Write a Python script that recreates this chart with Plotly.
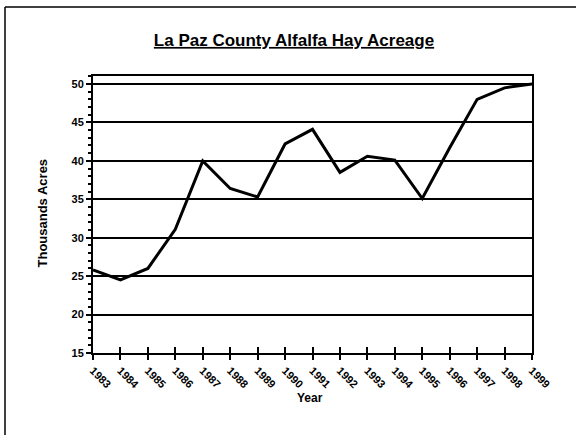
import plotly.graph_objects as go

years = list(range(1983, 2000))
acres = [25.8, 24.5, 26.0, 31.1, 40.0, 36.4, 35.3, 42.2, 44.1, 38.5,
         40.6, 40.1, 35.1, 41.7, 48.0, 49.5, 50.0]
y_ticks = [15, 20, 25, 30, 35, 40, 45, 50]

W, H = 576, 435
L, R, T, B = 93, 44, 76, 82
pw, ph = W - L - R, H - T - B

font = "Arial, Liberation Sans, sans-serif"

fig = go.Figure()
fig.add_trace(go.Scatter(
    x=years, y=acres, mode="lines",
    line=dict(color="black", width=3),
    showlegend=False, cliponaxis=False,
))
# invisible trace on the overlay axis so its inside ticks are drawn
fig.add_trace(go.Scatter(x=years, y=acres, xaxis="x2", mode="lines",
                         line=dict(width=0), hoverinfo="skip", showlegend=False))

fig.update_layout(
    width=W, height=H,
    margin=dict(l=L, r=R, t=T, b=B),
    paper_bgcolor="white", plot_bgcolor="white",
    font=dict(family=font, color="black"),
    title=dict(text="<b><u>La Paz County Alfalfa Hay Acreage</u></b>",
               x=294 / W, xanchor="center", y=1 - 40 / H, yanchor="middle",
               font=dict(size=17)),
    xaxis=dict(
        range=[1983, 1999], tickvals=years, ticktext=[str(v) for v in years],
        tickangle=45, tickfont=dict(size=11, family=font, weight="bold"),
        ticks="outside", ticklen=5, tickwidth=1.5, tickcolor="black",
        showgrid=False, zeroline=False, automargin=False,
        showline=True, linecolor="black", linewidth=2, mirror=True,
    ),
    xaxis2=dict(
        range=[1983, 1999], tickvals=years, showticklabels=False,
        overlaying="x", ticks="inside", ticklen=6, tickwidth=1.5,
        tickcolor="black", showgrid=False, zeroline=False, showline=False,
    ),
    yaxis=dict(
        range=[15, 51.04], tickvals=y_ticks,
        tickfont=dict(size=11, family=font, weight="bold"),
        ticks="outside", ticklen=5, tickwidth=1.5, tickcolor="black",
        minor=dict(dtick=1, ticks="outside", ticklen=3, tickcolor="black",
                   showgrid=False),
        showgrid=True, gridcolor="black", gridwidth=1.5,
        zeroline=False, automargin=False,
        showline=True, linecolor="black", linewidth=2, mirror=True,
    ),
)

def px_x(v):
    return (v - L) / pw

def px_y(v):
    return (H - B - v) / ph

# axis titles placed at the reference positions
fig.add_annotation(text="<b>Year</b>", xref="paper", yref="paper",
                   x=px_x(310), y=px_y(407), showarrow=False,
                   font=dict(size=12))
fig.add_annotation(text="<b>Thousands Acres</b>", xref="paper", yref="paper",
                   x=px_x(32), y=px_y(213), showarrow=False, textangle=-90,
                   font=dict(size=13))

# outer frame (left and top edges visible in the reference)
fig.add_shape(type="line", xref="paper", yref="paper",
              x0=px_x(5), x1=px_x(W), y0=px_y(7), y1=px_y(7),
              line=dict(color="black", width=1.5))
fig.add_shape(type="line", xref="paper", yref="paper",
              x0=px_x(5), x1=px_x(5), y0=px_y(7), y1=px_y(H),
              line=dict(color="black", width=1.5))

fig.write_html("out.html", config={"displayModeBar": False},
               post_script="document.body.style.margin='0px';")
